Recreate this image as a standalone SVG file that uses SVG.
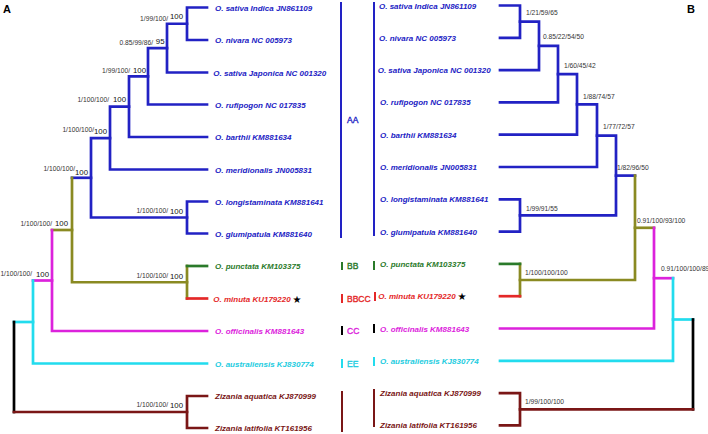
<svg xmlns="http://www.w3.org/2000/svg" width="708" height="434" viewBox="0 0 708 434">
<style>
.t{fill:none;stroke-width:2.7;stroke-linecap:square;stroke-linejoin:miter}
.b{stroke:#2222c4}.o{stroke:#8a8a22}.g{stroke:#2a7a2a}.r{stroke:#e42828}.m{stroke:#dc22dc}.c{stroke:#22dcee}.z{stroke:#7a1616}.k{stroke:#000}
.bar{fill:none;stroke-width:2}
.leaf{font-family:"Liberation Sans",Arial,sans-serif;font-size:8px;font-weight:bold;font-style:italic}
.sup{font-family:"Liberation Sans",Arial,sans-serif;font-size:6.7px;fill:#333}
.big{font-family:"Liberation Sans",Arial,sans-serif;font-size:7.8px;fill:#111}
.grp{font-family:"Liberation Sans",Arial,sans-serif;font-size:8.5px;stroke-width:0.35}
.star{font-family:"DejaVu Sans",sans-serif;font-size:10px;fill:#000}
.fb{fill:#2222c4}.fg{fill:#2a7a2a}.fr{fill:#e42828}.fm{fill:#dc22dc}.fc{fill:#22cce0}.fz{fill:#7a1616}
.panel{font-family:"Liberation Sans",Arial,sans-serif;font-size:11px;font-weight:bold;fill:#000}
</style>
<text class="panel" x="3" y="13">A</text>
<text class="panel" x="687" y="13">B</text>
<g id="connectors">
<!-- left tree -->
<path class="t b" d="M207,7.5H187V40H207"/>
<path class="t b" d="M187,23.75H167V72.5H207"/>
<path class="t b" d="M167,48.1H148V104.5H207"/>
<path class="t b" d="M148,76.3H129V137H207"/>
<path class="t b" d="M129,106.7H110V169.5H207"/>
<path class="t b" d="M207,201.5H187V233.5H207"/>
<path class="t b" d="M110,138.1H91V217.5H187"/>
<path class="t b" d="M91,177.8H72"/>
<path class="t o" d="M72,177.8V282.25H187"/>
<path class="t o" d="M187,266V298.5"/>
<path class="t g" d="M187,266H207"/>
<path class="t r" d="M187,298.5H207"/>
<path class="t o" d="M72,230H52"/>
<path class="t m" d="M52,230V331H207"/>
<path class="t m" d="M52,280.5H33"/>
<path class="t c" d="M33,280.5V363.5H207"/>
<path class="t c" d="M33,322H14"/>
<path class="t k" d="M14,322V412"/>
<path class="t z" d="M14,412H187"/>
<path class="t z" d="M207,396H187V428H207"/>
<!-- right tree -->
<path class="t b" d="M500,5.5H520V37.8H500"/>
<path class="t b" d="M520,21.65H539V70.1H500"/>
<path class="t b" d="M539,45.9H558V102.4H500"/>
<path class="t b" d="M558,74.15H577V134.7H500"/>
<path class="t b" d="M577,104.4H597V167H500"/>
<path class="t b" d="M500,199.3H520V231.6H500"/>
<path class="t b" d="M597,135.7H616V215.45H520"/>
<path class="t b" d="M616,175.6H635"/>
<path class="t o" d="M635,175.6V280H520"/>
<path class="t o" d="M520,263.9V296.2"/>
<path class="t g" d="M520,263.9H500"/>
<path class="t r" d="M520,296.2H500"/>
<path class="t o" d="M635,227.8H654"/>
<path class="t m" d="M654,227.8V328.5H500"/>
<path class="t m" d="M654,278.2H673"/>
<path class="t c" d="M673,278.2V360.8H500"/>
<path class="t c" d="M673,319.5H693"/>
<path class="t k" d="M693,319.5V409.3"/>
<path class="t z" d="M693,409.3H520"/>
<path class="t z" d="M500,393.1H520V425.4H500"/>
<!-- center group bars -->
<path class="bar" stroke="#2222c4" d="M341,2V238"/>
<path class="bar" stroke="#2222c4" d="M374,2V236"/>
<path class="bar" stroke="#2a7a2a" d="M342,262V270M374,261V270"/>
<path class="bar" stroke="#e42828" d="M342,294V303M375,292V301"/>
<path class="bar" stroke="#000" d="M342,326V335M374,324V333"/>
<path class="bar" stroke="#22dcee" d="M342,359V368M374,357V366"/>
<path class="bar" stroke="#7a1616" d="M342,391V432M374,389V427"/>
</g>
<g id="groups">
<text class="grp fb" stroke="#2222c4" x="347" y="123">AA</text>
<text class="grp fg" stroke="#2a7a2a" x="347" y="268.5">BB</text>
<text class="grp fr" stroke="#e42828" x="347" y="301.5">BBCC</text>
<text class="grp fm" stroke="#dc22dc" x="347" y="333.5">CC</text>
<text class="grp fc" stroke="#22cce0" x="347" y="366.5">EE</text>
</g>
<g id="left-labels">
<g id="L-indica"><text class="leaf fb" x="215" y="10.5">O. sativa Indica JN861109</text></g>
<g id="L-nivara"><text class="leaf fb" x="215" y="43">O. nivara NC 005973</text></g>
<g id="L-japonica"><text class="leaf fb" x="213.3" y="75.5">O. sativa Japonica NC 001320</text></g>
<g id="L-rufipogon"><text class="leaf fb" x="215" y="107.5">O. rufipogon NC 017835</text></g>
<g id="L-barthii"><text class="leaf fb" x="215" y="140">O. barthii KM881634</text></g>
<g id="L-meridionalis"><text class="leaf fb" x="215" y="172.5">O. meridionalis JN005831</text></g>
<g id="L-longistaminata"><text class="leaf fb" x="215" y="204.5">O. longistaminata KM881641</text></g>
<g id="L-glumipatula"><text class="leaf fb" x="215" y="236.5">O. glumipatula KM881640</text></g>
<g id="L-punctata"><text class="leaf fg" x="215" y="269">O. punctata KM103375</text></g>
<g id="L-minuta"><text class="leaf fr" x="213.3" y="301.5">O. minuta KU179220</text><text class="star" x="292.5" y="302.5">★</text></g>
<g id="L-officinalis"><text class="leaf fm" x="215" y="334">O. officinalis KM881643</text></g>
<g id="L-australiensis"><text class="leaf fc" x="215" y="366.5">O. australiensis KJ830774</text></g>
<g id="L-aquatica"><text class="leaf fz" x="215" y="399">Zizania aquatica KJ870999</text></g>
<g id="L-latifolia"><text class="leaf fz" x="215" y="431">Zizania latifolia KT161956</text></g>
</g>
<g id="right-labels">
<g id="R-indica"><text class="leaf fb" x="379" y="8.5">O. sativa Indica JN861109</text></g>
<g id="R-nivara"><text class="leaf fb" x="379" y="40.8">O. nivara NC 005973</text></g>
<g id="R-japonica"><text class="leaf fb" x="377.7" y="73.1">O. sativa Japonica NC 001320</text></g>
<g id="R-rufipogon"><text class="leaf fb" x="380" y="105.4">O. rufipogon NC 017835</text></g>
<g id="R-barthii"><text class="leaf fb" x="380" y="137.7">O. barthii KM881634</text></g>
<g id="R-meridionalis"><text class="leaf fb" x="380" y="170">O. meridionalis JN005831</text></g>
<g id="R-longistaminata"><text class="leaf fb" x="380" y="202.3">O. longistaminata KM881641</text></g>
<g id="R-glumipatula"><text class="leaf fb" x="380" y="234.6">O. glumipatula KM881640</text></g>
<g id="R-punctata"><text class="leaf fg" x="380" y="266.9">O. punctata KM103375</text></g>
<g id="R-minuta"><text class="leaf fr" x="378.3" y="299.2">O. minuta KU179220</text><text class="star" x="457.5" y="300.2">★</text></g>
<g id="R-officinalis"><text class="leaf fm" x="380" y="331.5">O. officinalis KM881643</text></g>
<g id="R-australiensis"><text class="leaf fc" x="380" y="363.8">O. australiensis KJ830774</text></g>
<g id="R-aquatica"><text class="leaf fz" x="380" y="396.1">Zizania aquatica KJ870999</text></g>
<g id="R-latifolia"><text class="leaf fz" x="380" y="428.4">Zizania latifolia KT161956</text></g>
</g>
<g id="left-support">
<text class="sup" x="168" y="20.7" text-anchor="end">1/99/100/</text><text class="big" x="183" y="19.4" text-anchor="end">100</text>
<text class="sup" x="153" y="44.7" text-anchor="end">0.85/99/86/</text><text class="big" x="164.5" y="44.4" text-anchor="end">95</text>
<text class="sup" x="130" y="73.1" text-anchor="end">1/99/100/</text><text class="big" x="146" y="72.7" text-anchor="end">100</text>
<text class="sup" x="109" y="102.4" text-anchor="end">1/100/100/</text><text class="big" x="126" y="102" text-anchor="end">100</text>
<text class="sup" x="94" y="131.7" text-anchor="end">1/100/100/</text><text class="big" x="107" y="134.4" text-anchor="end">100</text>
<text class="sup" x="75" y="171.4" text-anchor="end">1/100/100/</text><text class="big" x="88" y="174.7" text-anchor="end">100</text>
<text class="sup" x="168" y="213.4" text-anchor="end">1/100/100/</text><text class="big" x="183" y="213.7" text-anchor="end">100</text>
<text class="sup" x="52" y="226.4" text-anchor="end">1/100/100/</text><text class="big" x="68" y="225.7" text-anchor="end">100</text>
<text class="sup" x="168" y="278.4" text-anchor="end">1/100/100/</text><text class="big" x="183" y="278.7" text-anchor="end">100</text>
<text class="sup" x="32" y="276.4" text-anchor="end">1/100/100/</text><text class="big" x="49" y="276.7" text-anchor="end">100</text>
<text class="sup" x="168" y="407.4" text-anchor="end">1/100/100/</text><text class="big" x="183" y="407.7" text-anchor="end">100</text>
</g>
<g id="right-support">
<text class="sup" x="526" y="15.4">1/21/59/65</text>
<text class="sup" x="543" y="39.4">0.85/22/54/50</text>
<text class="sup" x="564" y="68.4">1/60/45/42</text>
<text class="sup" x="583" y="99.4">1/88/74/57</text>
<text class="sup" x="603" y="129.4">1/77/72/57</text>
<text class="sup" x="617" y="170.4">1/82/96/50</text>
<text class="sup" x="526" y="211.4">1/99/91/55</text>
<text class="sup" x="637" y="223.4">0.91/100/93/100</text>
<text class="sup" x="525" y="275.4">1/100/100/100</text>
<text class="sup" x="661" y="271.4">0.91/100/100/89</text>
<text class="sup" x="525" y="404.4">1/99/100/100</text>
</g>
</svg>
